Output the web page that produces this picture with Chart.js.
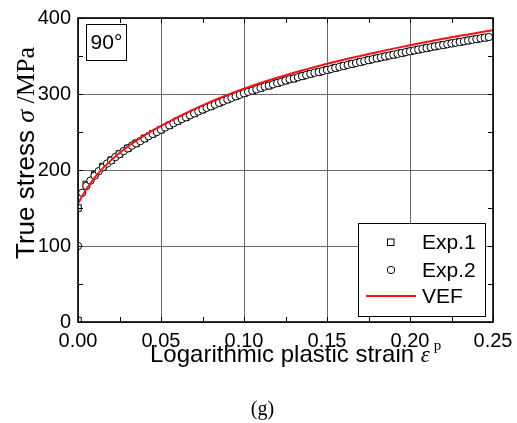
<!DOCTYPE html>
<html>
<head>
<meta charset="utf-8">
<script src="https://cdn.jsdelivr.net/npm/chart.js@4.4.1/dist/chart.umd.min.js"></script>
<style>
  html, body { margin: 0; padding: 0; background: #ffffff; }
  #wrap { width: 517px; height: 423px; position: relative; }
  canvas { display: block; }
</style>
</head>
<body>
<div id="wrap"><canvas id="c" width="517" height="423"></canvas></div>
<script>
// ---------------- data ----------------
const seriesNames = ["Exp.1", "Exp.2", "VEF"];
const panelLabel = "90°";
const captionText = "(g)";

const xTickValues = [0, 0.05, 0.10, 0.15, 0.20, 0.25];
const xTickLabels = ["0.00", "0.05", "0.10", "0.15", "0.20", "0.25"];
const xMinorTicks = [0.025, 0.075, 0.125, 0.175, 0.225];
const yTickValues = [0, 100, 200, 300, 400];
const yTickLabels = ["0", "100", "200", "300", "400"];
const yMinorTicks = [50, 150, 250, 350];

const exp1Strain = [0, 0, 0.005, 0.01, 0.015, 0.02, 0.025, 0.03, 0.035, 0.04, 0.045, 0.05,
  0.055, 0.06, 0.065, 0.07, 0.075, 0.08, 0.085, 0.09, 0.095, 0.10,
  0.105, 0.11, 0.115, 0.12, 0.125, 0.13, 0.135, 0.14, 0.145, 0.15,
  0.155, 0.16, 0.165, 0.17, 0.175, 0.18, 0.185, 0.19, 0.195, 0.20,
  0.205, 0.21, 0.215, 0.22, 0.225, 0.23, 0.235, 0.24, 0.245];
const exp1Stress = [2, 150, 181, 194, 204.5, 213, 221, 228.5, 235, 241.5, 247.5, 253,
  258.8, 264.4, 269.3, 274.5, 279.5, 283.8, 288.4, 292.8, 297, 301,
  304.3, 308, 311, 314.4, 317.7, 320.4, 323.5, 326.5, 328.9, 331.7,
  334.4, 337, 339.6, 342.1, 344.6, 347, 349.4, 351.7, 354, 356.2,
  358.4, 360.5, 362.6, 364.6, 366.6, 368.5, 370.4, 372.3, 374.1];

const exp2Strain = [0, 0.0025, 0.005, 0.0075, 0.01, 0.0125, 0.015, 0.0175, 0.02, 0.0225, 0.025,
  0.0275, 0.03, 0.0325, 0.035, 0.0375, 0.04, 0.0425, 0.045, 0.0475, 0.05,
  0.0525, 0.055, 0.0575, 0.06, 0.0625, 0.065, 0.0675, 0.07, 0.0725, 0.075,
  0.0775, 0.08, 0.0825, 0.085, 0.0875, 0.09, 0.0925, 0.095, 0.0975, 0.10,
  0.1025, 0.105, 0.1075, 0.11, 0.1125, 0.115, 0.1175, 0.12, 0.1225, 0.125,
  0.1275, 0.13, 0.1325, 0.135, 0.1375, 0.14, 0.1425, 0.145, 0.1475, 0.15,
  0.1525, 0.155, 0.1575, 0.16, 0.1625, 0.165, 0.1675, 0.17, 0.1725, 0.175,
  0.1775, 0.18, 0.1825, 0.185, 0.1875, 0.19, 0.1925, 0.195, 0.1975, 0.20,
  0.2025, 0.205, 0.2075, 0.21, 0.2125, 0.215, 0.2175, 0.22, 0.2225, 0.225,
  0.2275, 0.23, 0.2325, 0.235, 0.2375, 0.24, 0.2425, 0.245, 0.2475];
const exp2Stress = [100, 170, 179, 186, 192.5, 198.5, 203.5, 208.5, 212.5, 217, 221,
  225, 228.5, 232, 235, 238, 241.5, 244.5, 247.5, 250, 253,
  256, 258.8, 261.6, 264.4, 267.1, 269.3, 271.9, 274.5, 277, 279.5,
  281.9, 283.8, 286.1, 288.4, 290.6, 292.8, 294.9, 297, 299, 301,
  302.9, 304.3, 306.2, 308, 309.8, 311, 312.7, 314.4, 316, 317.7,
  319.3, 320.4, 322, 323.5, 325, 326.5, 328, 328.9, 330.3, 331.7,
  333, 334.4, 335.7, 337, 338.3, 339.6, 340.8, 342.1, 343.3, 344.6,
  345.8, 347, 348.2, 349.4, 350.5, 351.7, 352.8, 354, 355.1, 356.2,
  357.3, 358.4, 359.4, 360.5, 361.5, 362.6, 363.6, 364.6, 365.6, 366.6,
  367.5, 368.5, 369.4, 370.4, 371.3, 372.3, 373.2, 374.1, 375];

const vefStrain = [0, 0.005, 0.01, 0.015, 0.02, 0.025, 0.03, 0.035, 0.04, 0.045, 0.05,
  0.055, 0.06, 0.065, 0.07, 0.075, 0.08, 0.085, 0.09, 0.095, 0.10,
  0.105, 0.11, 0.115, 0.12, 0.125, 0.13, 0.135, 0.14, 0.145, 0.15,
  0.155, 0.16, 0.165, 0.17, 0.175, 0.18, 0.185, 0.19, 0.195, 0.20,
  0.205, 0.21, 0.215, 0.22, 0.225, 0.23, 0.235, 0.24, 0.245, 0.25];
const vefStress = [156, 175, 190, 202.5, 213, 222.5, 231, 238.5, 245.5, 252, 258,
  263.8, 269.4, 274.8, 280, 285, 289.8, 294.4, 298.8, 303, 307,
  310.8, 314.5, 318, 321.4, 324.7, 327.9, 331, 334, 336.9, 339.7,
  342.4, 345, 347.6, 350.1, 352.6, 355, 357.4, 359.7, 362, 364.2,
  366.4, 368.5, 370.6, 372.6, 374.6, 376.5, 378.4, 380.3, 382.1, 383.9];

// ---------------- helpers ----------------
const toXY = (xs, ys) => xs.map((x, i) => ({ x: x, y: ys[i] }));
const SANS = '"Liberation Sans", Arial, sans-serif';
const SERIF = '"Liberation Serif", "Times New Roman", serif';

const decorPlugin = {
  id: 'decor',
  afterDatasetsDraw(chart) {
    const ctx = chart.ctx;
    const a = chart.chartArea;
    const xs = chart.scales.x, ys = chart.scales.y;
    ctx.save();
    // inward ticks on all four sides
    ctx.strokeStyle = '#000';
    ctx.lineWidth = 1;
    const tl = 5;
    xTickValues.concat(xMinorTicks).forEach(v => {
      const px = Math.round(xs.getPixelForValue(v)) + 0.5;
      ctx.beginPath();
      ctx.moveTo(px, a.bottom); ctx.lineTo(px, a.bottom - tl);
      ctx.moveTo(px, a.top); ctx.lineTo(px, a.top + tl);
      ctx.stroke();
    });
    yTickValues.concat(yMinorTicks).forEach(v => {
      const py = Math.round(ys.getPixelForValue(v)) + 0.5;
      ctx.beginPath();
      ctx.moveTo(a.left, py); ctx.lineTo(a.left + tl, py);
      ctx.moveTo(a.right, py); ctx.lineTo(a.right - tl, py);
      ctx.stroke();
    });
    // frame
    ctx.lineWidth = 1.6;
    ctx.strokeRect(a.left, a.top, a.right - a.left, a.bottom - a.top);

    // panel label box
    ctx.lineWidth = 1;
    ctx.fillStyle = '#fff';
    ctx.fillRect(86.5, 24.5, 40, 36);
    ctx.strokeRect(86.5, 24.5, 40, 36);
    ctx.fillStyle = '#000';
    ctx.font = '21px ' + SANS;
    ctx.textAlign = 'center';
    ctx.textBaseline = 'middle';
    ctx.fillText(panelLabel, 106.5, 43);

    // legend box
    const lx = 358.5, ly = 223.5, lw = 127, lh = 93;
    ctx.fillStyle = '#fff';
    ctx.fillRect(lx, ly, lw, lh);
    ctx.strokeStyle = '#000';
    ctx.strokeRect(lx, ly, lw, lh);
    // square marker
    ctx.lineWidth = 1;
    ctx.strokeRect(387.5, 239, 6.5, 6.5);
    // circle marker
    ctx.beginPath();
    ctx.arc(391, 270, 3.7, 0, Math.PI * 2);
    ctx.fillStyle = '#fff';
    ctx.fill();
    ctx.stroke();
    // line marker
    ctx.strokeStyle = '#ff1010';
    ctx.lineWidth = 2;
    ctx.beginPath();
    ctx.moveTo(366, 296); ctx.lineTo(416, 296);
    ctx.stroke();
    ctx.fillStyle = '#000';
    ctx.font = '21px ' + SANS;
    ctx.textAlign = 'left';
    ctx.textBaseline = 'middle';
    ctx.fillText(seriesNames[0], 422, 243);
    ctx.fillText(seriesNames[1], 422, 271);
    ctx.fillText(seriesNames[2], 422, 297);

    // x axis title
    ctx.textBaseline = 'alphabetic';
    ctx.textAlign = 'left';
    let x0 = 150;
    const xb = 362;
    ctx.font = '24px ' + SANS;
    const t1 = 'Logarithmic plastic strain ';
    ctx.fillText(t1, x0, xb);
    x0 += ctx.measureText(t1).width;
    ctx.font = 'italic 23px ' + SERIF;
    ctx.fillText('\u03b5', x0, xb);
    x0 += ctx.measureText('\u03b5').width + 4;
    ctx.font = '15px ' + SERIF;
    ctx.fillText('p', x0, xb - 12);

    // y axis title (rotated)
    ctx.save();
    ctx.translate(34, 259);
    ctx.rotate(-Math.PI / 2);
    let y0 = 0;
    ctx.font = '26px ' + SANS;
    const s1 = 'True stress ';
    ctx.fillText(s1, y0, 0);
    y0 += ctx.measureText(s1).width;
    ctx.font = 'italic 26px ' + SERIF;
    ctx.fillText('\u03c3', y0, 0);
    y0 += ctx.measureText('\u03c3').width;
    ctx.font = '26px ' + SERIF;
    ctx.fillText(' /MPa', y0, 0);
    ctx.restore();

    // caption
    ctx.font = '20px ' + SERIF;
    ctx.textAlign = 'center';
    ctx.fillText(captionText, 262.5, 415);
    ctx.restore();
  }
};

const ctx = document.getElementById('c').getContext('2d');
new Chart(ctx, {
  type: 'scatter',
  data: {
    datasets: [
      {
        label: seriesNames[2],
        data: toXY(vefStrain, vefStress),
        showLine: true,
        borderColor: '#ff1010',
        borderWidth: 2,
        pointRadius: 0,
        fill: false,
        order: 0
      },
      {
        label: seriesNames[1],
        data: toXY(exp2Strain, exp2Stress),
        showLine: false,
        pointStyle: 'circle',
        pointRadius: 3.7,
        pointBorderWidth: 1,
        pointBorderColor: '#000',
        pointBackgroundColor: '#fff',
        order: 1
      },
      {
        label: seriesNames[0],
        data: toXY(exp1Strain, exp1Stress),
        showLine: false,
        pointStyle: 'rect',
        pointRadius: 4.6,
        pointBorderWidth: 1,
        pointBorderColor: '#000',
        pointBackgroundColor: '#fff',
        order: 2
      }
    ]
  },
  options: {
    responsive: false,
    animation: false,
    events: [],
    layout: { padding: { left: 0, right: 24, top: 18, bottom: 0 } },
    plugins: { legend: { display: false }, tooltip: { enabled: false }, title: { display: false } },
    scales: {
      x: {
        type: 'linear',
        min: 0, max: 0.25,
        afterBuildTicks: s => { s.ticks = xTickValues.map(v => ({ value: v })); },
        afterFit: s => { s.height = 101; s.paddingLeft = 0; s.paddingRight = 0; },
        ticks: {
          padding: 7,
          color: '#000',
          font: { family: SANS, size: 20 },
          maxRotation: 0,
          autoSkip: false,
          callback: (v) => { const i = xTickValues.findIndex(t => Math.abs(t - v) < 1e-9); return i >= 0 ? xTickLabels[i] : ''; }
        },
        grid: { color: '#6a6a6a', lineWidth: 1, drawTicks: false },
        border: { display: false }
      },
      y: {
        type: 'linear',
        min: 0, max: 400,
        afterBuildTicks: s => { s.ticks = yTickValues.map(v => ({ value: v })); },
        afterFit: s => { s.width = 78; s.paddingTop = 0; s.paddingBottom = 0; },
        ticks: {
          padding: 7,
          color: '#000',
          font: { family: SANS, size: 20 },
          autoSkip: false,
          callback: (v) => { const i = yTickValues.indexOf(v); return i >= 0 ? yTickLabels[i] : ''; }
        },
        grid: { color: '#6a6a6a', lineWidth: 1, drawTicks: false },
        border: { display: false }
      }
    }
  },
  plugins: [decorPlugin]
});
</script>
</body>
</html>
